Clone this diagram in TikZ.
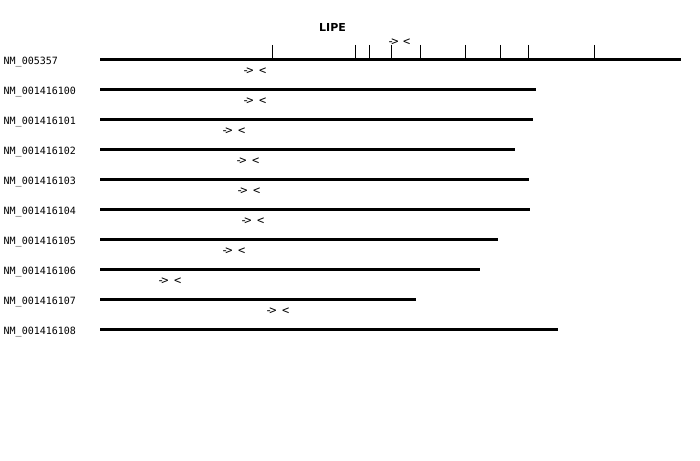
\documentclass[tikz,border=0pt]{standalone}
\usepackage{fontspec}
\setmainfont{DejaVu Sans}
\setmonofont{DejaVu Sans Mono}
\begin{document}
\begin{tikzpicture}[x=1pt,y=-1pt,
    every node/.style={inner sep=0pt,font=\ttfamily\fontsize{10}{12}\selectfont},
    acc/.style={anchor=base west},
    primer/.style={anchor=west,font=\ttfamily\fontsize{12}{14}\selectfont},
    gene/.style={font=\bfseries\fontsize{11}{13}\selectfont},
    tx/.style={line width=3pt},
    exon/.style={line width=1pt}]
  \useasboundingbox (0,0) rectangle (700,460);
  \node[gene] (lipe) at (332.5,27) {LIPE};
  \node[primer] (f0) at (387,42) {-\kern-3pt>};
  \node[primer] (r0) at (403,42) {<};
  \node[acc] (nm005357) at (3.5,64) {NM\_005357};
  \draw[tx] (100,59.5) -- (681,59.5);
  \draw[exon] (272.5,45) -- (272.5,59.5);
  \draw[exon] (355.5,45) -- (355.5,59.5);
  \draw[exon] (369.5,45) -- (369.5,59.5);
  \draw[exon] (391.5,45) -- (391.5,59.5);
  \draw[exon] (420.5,45) -- (420.5,59.5);
  \draw[exon] (465.5,45) -- (465.5,59.5);
  \draw[exon] (500.5,45) -- (500.5,59.5);
  \draw[exon] (528.5,45) -- (528.5,59.5);
  \draw[exon] (594,45) -- (594,59.5);
  \node[primer] (f1) at (242,71.5) {-\kern-3pt>};
  \node[primer] (r1) at (259,71.5) {<};
  \node[acc] (nm100) at (3.5,94) {NM\_001416100};
  \draw[tx] (100,89.5) -- (536,89.5);
  \node[primer] (f2) at (242,101.5) {-\kern-3pt>};
  \node[primer] (r2) at (259,101.5) {<};
  \node[acc] (nm101) at (3.5,124) {NM\_001416101};
  \draw[tx] (100,119.5) -- (533,119.5);
  \node[primer] (f3) at (221,131.5) {-\kern-3pt>};
  \node[primer] (r3) at (238,131.5) {<};
  \node[acc] (nm102) at (3.5,154) {NM\_001416102};
  \draw[tx] (100,149.5) -- (515,149.5);
  \node[primer] (f4) at (235,161.5) {-\kern-3pt>};
  \node[primer] (r4) at (252,161.5) {<};
  \node[acc] (nm103) at (3.5,184) {NM\_001416103};
  \draw[tx] (100,179.5) -- (529,179.5);
  \node[primer] (f5) at (236,191.5) {-\kern-3pt>};
  \node[primer] (r5) at (253,191.5) {<};
  \node[acc] (nm104) at (3.5,214) {NM\_001416104};
  \draw[tx] (100,209.5) -- (530,209.5);
  \node[primer] (f6) at (240,221.5) {-\kern-3pt>};
  \node[primer] (r6) at (257,221.5) {<};
  \node[acc] (nm105) at (3.5,244) {NM\_001416105};
  \draw[tx] (100,239.5) -- (498,239.5);
  \node[primer] (f7) at (221,251.5) {-\kern-3pt>};
  \node[primer] (r7) at (238,251.5) {<};
  \node[acc] (nm106) at (3.5,274) {NM\_001416106};
  \draw[tx] (100,269.5) -- (480,269.5);
  \node[primer] (f8) at (157,281.5) {-\kern-3pt>};
  \node[primer] (r8) at (174,281.5) {<};
  \node[acc] (nm107) at (3.5,304) {NM\_001416107};
  \draw[tx] (100,299.5) -- (416,299.5);
  \node[primer] (f9) at (265,311.5) {-\kern-3pt>};
  \node[primer] (r9) at (282,311.5) {<};
  \node[acc] (nm108) at (3.5,334) {NM\_001416108};
  \draw[tx] (100,329.5) -- (558,329.5);
\end{tikzpicture}
\end{document}
